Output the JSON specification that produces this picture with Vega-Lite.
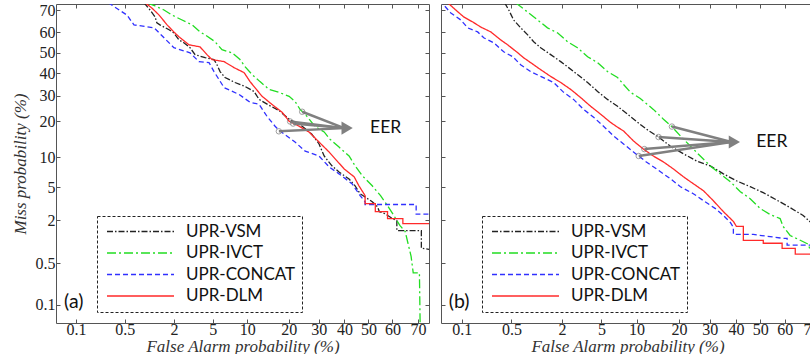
{
  "$schema": "https://vega.github.io/schema/vega-lite/v6.json",
  "autosize": {"type": "pad"},
  "padding": {"left": 11, "top": 2, "right": 0, "bottom": 0},
  "background": "white",
  "datasets": {
    "curves": [
      {"p":"a","s":"UPR-VSM","fa":0.887,"miss":73},{"p":"a","s":"UPR-VSM","fa":1.05,"miss":70.0},{"p":"a","s":"UPR-VSM","fa":1.21,"miss":67.0},{"p":"a","s":"UPR-VSM","fa":1.27,"miss":64.3},{"p":"a","s":"UPR-VSM","fa":1.38,"miss":63.4},{"p":"a","s":"UPR-VSM","fa":1.76,"miss":61.1},{"p":"a","s":"UPR-VSM","fa":1.99,"miss":59.6},{"p":"a","s":"UPR-VSM","fa":2.26,"miss":56.3},{"p":"a","s":"UPR-VSM","fa":2.56,"miss":54.9},{"p":"a","s":"UPR-VSM","fa":2.97,"miss":52.5},{"p":"a","s":"UPR-VSM","fa":3.35,"miss":49.1},{"p":"a","s":"UPR-VSM","fa":4.22,"miss":47.6},{"p":"a","s":"UPR-VSM","fa":5.14,"miss":46.7},{"p":"a","s":"UPR-VSM","fa":5.48,"miss":44.2},{"p":"a","s":"UPR-VSM","fa":5.85,"miss":40.9},{"p":"a","s":"UPR-VSM","fa":6.49,"miss":38.1},{"p":"a","s":"UPR-VSM","fa":7.93,"miss":35.8},{"p":"a","s":"UPR-VSM","fa":9.61,"miss":34.0},{"p":"a","s":"UPR-VSM","fa":11.33,"miss":31.8},{"p":"a","s":"UPR-VSM","fa":12.4,"miss":28.4},{"p":"a","s":"UPR-VSM","fa":14.7,"miss":26.0},{"p":"a","s":"UPR-VSM","fa":17.2,"miss":24.0},{"p":"a","s":"UPR-VSM","fa":20.1,"miss":20.8},{"p":"a","s":"UPR-VSM","fa":24.2,"miss":18.4},{"p":"a","s":"UPR-VSM","fa":27.5,"miss":15.9},{"p":"a","s":"UPR-VSM","fa":30.1,"miss":13.2},{"p":"a","s":"UPR-VSM","fa":32.0,"miss":10.3},{"p":"a","s":"UPR-VSM","fa":35.0,"miss":8.3},{"p":"a","s":"UPR-VSM","fa":37.8,"miss":7.2},{"p":"a","s":"UPR-VSM","fa":41.9,"miss":6.1},{"p":"a","s":"UPR-VSM","fa":44.4,"miss":5.16},{"p":"a","s":"UPR-VSM","fa":46.5,"miss":4.2},{"p":"a","s":"UPR-VSM","fa":51.6,"miss":3.4},{"p":"a","s":"UPR-VSM","fa":53.8,"miss":2.97},{"p":"a","s":"UPR-VSM","fa":54.6,"miss":2.58},{"p":"a","s":"UPR-VSM","fa":56.8,"miss":2.44},{"p":"a","s":"UPR-VSM","fa":60.1,"miss":2.11},{"p":"a","s":"UPR-VSM","fa":61.8,"miss":1.99},{"p":"a","s":"UPR-VSM","fa":61.8,"miss":1.47},{"p":"a","s":"UPR-VSM","fa":71.2,"miss":1.47},{"p":"a","s":"UPR-VSM","fa":71.2,"miss":0.83},{"p":"a","s":"UPR-VSM","fa":76,"miss":0.78},
      {"p":"a","s":"UPR-IVCT","fa":0.965,"miss":73},{"p":"a","s":"UPR-IVCT","fa":1.21,"miss":71.7},{"p":"a","s":"UPR-IVCT","fa":1.54,"miss":70.0},{"p":"a","s":"UPR-IVCT","fa":1.90,"miss":67.8},{"p":"a","s":"UPR-IVCT","fa":2.45,"miss":65.6},{"p":"a","s":"UPR-IVCT","fa":3.12,"miss":63.4},{"p":"a","s":"UPR-IVCT","fa":3.76,"miss":60.1},{"p":"a","s":"UPR-IVCT","fa":4.22,"miss":58.7},{"p":"a","s":"UPR-IVCT","fa":5.26,"miss":55.4},{"p":"a","s":"UPR-IVCT","fa":6.09,"miss":51.5},{"p":"a","s":"UPR-IVCT","fa":7.48,"miss":50.0},{"p":"a","s":"UPR-IVCT","fa":8.74,"miss":46.7},{"p":"a","s":"UPR-IVCT","fa":9.61,"miss":43.3},{"p":"a","s":"UPR-IVCT","fa":10.95,"miss":39.5},{"p":"a","s":"UPR-IVCT","fa":12.6,"miss":36.2},{"p":"a","s":"UPR-IVCT","fa":14.7,"miss":32.7},{"p":"a","s":"UPR-IVCT","fa":17.2,"miss":31.4},{"p":"a","s":"UPR-IVCT","fa":20.1,"miss":29.7},{"p":"a","s":"UPR-IVCT","fa":21.9,"miss":27.6},{"p":"a","s":"UPR-IVCT","fa":23.5,"miss":24.4},{"p":"a","s":"UPR-IVCT","fa":25.8,"miss":21.8},{"p":"a","s":"UPR-IVCT","fa":28.6,"miss":18.4},{"p":"a","s":"UPR-IVCT","fa":32.0,"miss":16.6},{"p":"a","s":"UPR-IVCT","fa":34.2,"miss":14.5},{"p":"a","s":"UPR-IVCT","fa":37.8,"miss":12.4},{"p":"a","s":"UPR-IVCT","fa":41.9,"miss":10.3},{"p":"a","s":"UPR-IVCT","fa":44.4,"miss":8.3},{"p":"a","s":"UPR-IVCT","fa":47.4,"miss":6.6},{"p":"a","s":"UPR-IVCT","fa":51.6,"miss":5.16},{"p":"a","s":"UPR-IVCT","fa":55.1,"miss":4.0},{"p":"a","s":"UPR-IVCT","fa":58.0,"miss":3.05},{"p":"a","s":"UPR-IVCT","fa":60.1,"miss":2.44},{"p":"a","s":"UPR-IVCT","fa":63.0,"miss":1.72},{"p":"a","s":"UPR-IVCT","fa":65.1,"miss":1.43},{"p":"a","s":"UPR-IVCT","fa":66.2,"miss":0.98},{"p":"a","s":"UPR-IVCT","fa":67.4,"miss":0.63},{"p":"a","s":"UPR-IVCT","fa":68.2,"miss":0.35},{"p":"a","s":"UPR-IVCT","fa":70.5,"miss":0.35},{"p":"a","s":"UPR-IVCT","fa":70.8,"miss":0.03},
      {"p":"a","s":"UPR-CONCAT","fa":0.30,"miss":73},{"p":"a","s":"UPR-CONCAT","fa":0.537,"miss":67.8},{"p":"a","s":"UPR-CONCAT","fa":0.662,"miss":63.4},{"p":"a","s":"UPR-CONCAT","fa":1.18,"miss":62.0},{"p":"a","s":"UPR-CONCAT","fa":1.54,"miss":57.3},{"p":"a","s":"UPR-CONCAT","fa":1.99,"miss":52.5},{"p":"a","s":"UPR-CONCAT","fa":2.97,"miss":50.0},{"p":"a","s":"UPR-CONCAT","fa":3.67,"miss":45.7},{"p":"a","s":"UPR-CONCAT","fa":4.61,"miss":45.2},{"p":"a","s":"UPR-CONCAT","fa":5.14,"miss":40.9},{"p":"a","s":"UPR-CONCAT","fa":6.36,"miss":33.5},{"p":"a","s":"UPR-CONCAT","fa":8.58,"miss":30.5},{"p":"a","s":"UPR-CONCAT","fa":10.55,"miss":27.2},{"p":"a","s":"UPR-CONCAT","fa":12.4,"miss":26.4},{"p":"a","s":"UPR-CONCAT","fa":14.2,"miss":21.8},{"p":"a","s":"UPR-CONCAT","fa":16.2,"miss":18.4},{"p":"a","s":"UPR-CONCAT","fa":17.5,"miss":16.9},{"p":"a","s":"UPR-CONCAT","fa":21.9,"miss":13.7},{"p":"a","s":"UPR-CONCAT","fa":25.2,"miss":11.4},{"p":"a","s":"UPR-CONCAT","fa":30.1,"miss":10.3},{"p":"a","s":"UPR-CONCAT","fa":33.9,"miss":8.1},{"p":"a","s":"UPR-CONCAT","fa":37.8,"miss":6.9},{"p":"a","s":"UPR-CONCAT","fa":43.2,"miss":5.4},{"p":"a","s":"UPR-CONCAT","fa":46.5,"miss":4.0},{"p":"a","s":"UPR-CONCAT","fa":48.6,"miss":3.4},{"p":"a","s":"UPR-CONCAT","fa":48.6,"miss":3.15},{"p":"a","s":"UPR-CONCAT","fa":69.3,"miss":3.15},{"p":"a","s":"UPR-CONCAT","fa":69.3,"miss":2.4},{"p":"a","s":"UPR-CONCAT","fa":76,"miss":2.4},
      {"p":"a","s":"UPR-DLM","fa":0.914,"miss":73},{"p":"a","s":"UPR-DLM","fa":1.11,"miss":70.8},{"p":"a","s":"UPR-DLM","fa":1.35,"miss":67.8},{"p":"a","s":"UPR-DLM","fa":1.67,"miss":63.4},{"p":"a","s":"UPR-DLM","fa":1.99,"miss":60.1},{"p":"a","s":"UPR-DLM","fa":2.26,"miss":57.8},{"p":"a","s":"UPR-DLM","fa":2.90,"miss":53.9},{"p":"a","s":"UPR-DLM","fa":3.76,"miss":52.9},{"p":"a","s":"UPR-DLM","fa":4.40,"miss":49.1},{"p":"a","s":"UPR-DLM","fa":4.92,"miss":46.7},{"p":"a","s":"UPR-DLM","fa":6.36,"miss":45.7},{"p":"a","s":"UPR-DLM","fa":7.78,"miss":42.8},{"p":"a","s":"UPR-DLM","fa":9.45,"miss":40.4},{"p":"a","s":"UPR-DLM","fa":10.55,"miss":36.2},{"p":"a","s":"UPR-DLM","fa":13.05,"miss":29.7},{"p":"a","s":"UPR-DLM","fa":15.7,"miss":26.0},{"p":"a","s":"UPR-DLM","fa":18.1,"miss":23.3},{"p":"a","s":"UPR-DLM","fa":20.1,"miss":20.1},{"p":"a","s":"UPR-DLM","fa":23.2,"miss":18.4},{"p":"a","s":"UPR-DLM","fa":26.5,"miss":16.6},{"p":"a","s":"UPR-DLM","fa":30.1,"miss":13.7},{"p":"a","s":"UPR-DLM","fa":33.9,"miss":11.2},{"p":"a","s":"UPR-DLM","fa":37.0,"miss":9.26},{"p":"a","s":"UPR-DLM","fa":39.9,"miss":7.74},{"p":"a","s":"UPR-DLM","fa":44.0,"miss":6.43},{"p":"a","s":"UPR-DLM","fa":46.0,"miss":5.16},{"p":"a","s":"UPR-DLM","fa":48.6,"miss":4.0},{"p":"a","s":"UPR-DLM","fa":48.6,"miss":3.23},{"p":"a","s":"UPR-DLM","fa":52.9,"miss":3.23},{"p":"a","s":"UPR-DLM","fa":52.9,"miss":2.58},{"p":"a","s":"UPR-DLM","fa":58.0,"miss":2.58},{"p":"a","s":"UPR-DLM","fa":58.0,"miss":2.11},{"p":"a","s":"UPR-DLM","fa":64.2,"miss":2.11},{"p":"a","s":"UPR-DLM","fa":64.2,"miss":1.82},{"p":"a","s":"UPR-DLM","fa":76,"miss":1.82},
      {"p":"b","s":"UPR-VSM","fa":0.407,"miss":73},{"p":"b","s":"UPR-VSM","fa":0.461,"miss":70.0},{"p":"b","s":"UPR-VSM","fa":0.534,"miss":65.6},{"p":"b","s":"UPR-VSM","fa":0.657,"miss":62.0},{"p":"b","s":"UPR-VSM","fa":0.802,"miss":58.7},{"p":"b","s":"UPR-VSM","fa":0.949,"miss":55.4},{"p":"b","s":"UPR-VSM","fa":1.15,"miss":52.5},{"p":"b","s":"UPR-VSM","fa":1.50,"miss":49.1},{"p":"b","s":"UPR-VSM","fa":1.94,"miss":45.7},{"p":"b","s":"UPR-VSM","fa":2.36,"miss":42.8},{"p":"b","s":"UPR-VSM","fa":2.92,"miss":39.5},{"p":"b","s":"UPR-VSM","fa":3.69,"miss":35.8},{"p":"b","s":"UPR-VSM","fa":4.60,"miss":31.8},{"p":"b","s":"UPR-VSM","fa":5.68,"miss":28.4},{"p":"b","s":"UPR-VSM","fa":6.97,"miss":25.6},{"p":"b","s":"UPR-VSM","fa":8.46,"miss":22.6},{"p":"b","s":"UPR-VSM","fa":10.2,"miss":19.7},{"p":"b","s":"UPR-VSM","fa":11.9,"miss":17.5},{"p":"b","s":"UPR-VSM","fa":14.6,"miss":15.1},{"p":"b","s":"UPR-VSM","fa":17.6,"miss":12.6},{"p":"b","s":"UPR-VSM","fa":21.3,"miss":10.8},{"p":"b","s":"UPR-VSM","fa":25.4,"miss":9.26},{"p":"b","s":"UPR-VSM","fa":30.2,"miss":8.29},{"p":"b","s":"UPR-VSM","fa":35.1,"miss":6.90},{"p":"b","s":"UPR-VSM","fa":40.2,"miss":5.84},{"p":"b","s":"UPR-VSM","fa":45.8,"miss":5.04},{"p":"b","s":"UPR-VSM","fa":51.2,"miss":4.33},{"p":"b","s":"UPR-VSM","fa":56.5,"miss":3.59},{"p":"b","s":"UPR-VSM","fa":62.1,"miss":2.89},{"p":"b","s":"UPR-VSM","fa":67.1,"miss":2.31},{"p":"b","s":"UPR-VSM","fa":70.7,"miss":1.77},{"p":"b","s":"UPR-VSM","fa":73,"miss":1.5},
      {"p":"b","s":"UPR-IVCT","fa":0.567,"miss":73},{"p":"b","s":"UPR-IVCT","fa":0.802,"miss":69.1},{"p":"b","s":"UPR-IVCT","fa":1.06,"miss":65.6},{"p":"b","s":"UPR-IVCT","fa":1.38,"miss":62.0},{"p":"b","s":"UPR-IVCT","fa":1.80,"miss":59.6},{"p":"b","s":"UPR-IVCT","fa":2.30,"miss":55.4},{"p":"b","s":"UPR-IVCT","fa":2.92,"miss":52.5},{"p":"b","s":"UPR-IVCT","fa":3.69,"miss":48.1},{"p":"b","s":"UPR-IVCT","fa":4.60,"miss":45.2},{"p":"b","s":"UPR-IVCT","fa":5.68,"miss":40.9},{"p":"b","s":"UPR-IVCT","fa":6.97,"miss":38.1},{"p":"b","s":"UPR-IVCT","fa":7.84,"miss":34.9},{"p":"b","s":"UPR-IVCT","fa":8.95,"miss":31.4},{"p":"b","s":"UPR-IVCT","fa":10.7,"miss":28.8},{"p":"b","s":"UPR-IVCT","fa":13.4,"miss":24.4},{"p":"b","s":"UPR-IVCT","fa":15.8,"miss":20.8},{"p":"b","s":"UPR-IVCT","fa":17.9,"miss":18.4},{"p":"b","s":"UPR-IVCT","fa":20.4,"miss":15.4},{"p":"b","s":"UPR-IVCT","fa":23.5,"miss":12.6},{"p":"b","s":"UPR-IVCT","fa":26.7,"miss":10.3},{"p":"b","s":"UPR-IVCT","fa":30.2,"miss":8.29},{"p":"b","s":"UPR-IVCT","fa":33.9,"miss":6.90},{"p":"b","s":"UPR-IVCT","fa":37.8,"miss":5.70},{"p":"b","s":"UPR-IVCT","fa":41.8,"miss":4.44},{"p":"b","s":"UPR-IVCT","fa":45.8,"miss":3.69},{"p":"b","s":"UPR-IVCT","fa":50.0,"miss":2.81},{"p":"b","s":"UPR-IVCT","fa":54.1,"miss":2.37},{"p":"b","s":"UPR-IVCT","fa":58.1,"miss":2.11},{"p":"b","s":"UPR-IVCT","fa":59.3,"miss":1.67},{"p":"b","s":"UPR-IVCT","fa":62.1,"miss":1.26},{"p":"b","s":"UPR-IVCT","fa":66.0,"miss":1.08},{"p":"b","s":"UPR-IVCT","fa":69.0,"miss":0.95},{"p":"b","s":"UPR-IVCT","fa":69.7,"miss":0.78},{"p":"b","s":"UPR-IVCT","fa":71,"miss":0.6},
      {"p":"b","s":"UPR-CONCAT","fa":0.045,"miss":74},{"p":"b","s":"UPR-CONCAT","fa":0.068,"miss":68.7},{"p":"b","s":"UPR-CONCAT","fa":0.097,"miss":65.6},{"p":"b","s":"UPR-CONCAT","fa":0.123,"miss":62.0},{"p":"b","s":"UPR-CONCAT","fa":0.172,"miss":60.1},{"p":"b","s":"UPR-CONCAT","fa":0.210,"miss":57.3},{"p":"b","s":"UPR-CONCAT","fa":0.290,"miss":54.9},{"p":"b","s":"UPR-CONCAT","fa":0.395,"miss":50.5},{"p":"b","s":"UPR-CONCAT","fa":0.519,"miss":48.1},{"p":"b","s":"UPR-CONCAT","fa":0.655,"miss":44.2},{"p":"b","s":"UPR-CONCAT","fa":0.873,"miss":40.9},{"p":"b","s":"UPR-CONCAT","fa":1.15,"miss":38.6},{"p":"b","s":"UPR-CONCAT","fa":1.62,"miss":35.8},{"p":"b","s":"UPR-CONCAT","fa":2.09,"miss":31.4},{"p":"b","s":"UPR-CONCAT","fa":2.66,"miss":28.4},{"p":"b","s":"UPR-CONCAT","fa":3.36,"miss":24.4},{"p":"b","s":"UPR-CONCAT","fa":4.22,"miss":21.5},{"p":"b","s":"UPR-CONCAT","fa":5.34,"miss":18.1},{"p":"b","s":"UPR-CONCAT","fa":6.43,"miss":15.4},{"p":"b","s":"UPR-CONCAT","fa":7.84,"miss":13.2},{"p":"b","s":"UPR-CONCAT","fa":9.46,"miss":11.2},{"p":"b","s":"UPR-CONCAT","fa":10.4,"miss":10.3},{"p":"b","s":"UPR-CONCAT","fa":11.9,"miss":9.05},{"p":"b","s":"UPR-CONCAT","fa":14.1,"miss":7.74},{"p":"b","s":"UPR-CONCAT","fa":17.6,"miss":6.13},{"p":"b","s":"UPR-CONCAT","fa":20.4,"miss":5.04},{"p":"b","s":"UPR-CONCAT","fa":24.4,"miss":4.21},{"p":"b","s":"UPR-CONCAT","fa":27.8,"miss":3.50},{"p":"b","s":"UPR-CONCAT","fa":32.1,"miss":2.81},{"p":"b","s":"UPR-CONCAT","fa":35.1,"miss":2.31},{"p":"b","s":"UPR-CONCAT","fa":37.8,"miss":1.88},{"p":"b","s":"UPR-CONCAT","fa":39.0,"miss":1.62},{"p":"b","s":"UPR-CONCAT","fa":39.0,"miss":1.30},{"p":"b","s":"UPR-CONCAT","fa":47.1,"miss":1.30},{"p":"b","s":"UPR-CONCAT","fa":59.3,"miss":1.15},{"p":"b","s":"UPR-CONCAT","fa":60.9,"miss":1.15},{"p":"b","s":"UPR-CONCAT","fa":60.9,"miss":0.92},{"p":"b","s":"UPR-CONCAT","fa":73,"miss":0.92},
      {"p":"b","s":"UPR-DLM","fa":0.055,"miss":74},{"p":"b","s":"UPR-DLM","fa":0.081,"miss":70.0},{"p":"b","s":"UPR-DLM","fa":0.107,"miss":67.0},{"p":"b","s":"UPR-DLM","fa":0.146,"miss":64.7},{"p":"b","s":"UPR-DLM","fa":0.190,"miss":62.4},{"p":"b","s":"UPR-DLM","fa":0.264,"miss":60.1},{"p":"b","s":"UPR-DLM","fa":0.360,"miss":56.3},{"p":"b","s":"UPR-DLM","fa":0.446,"miss":53.9},{"p":"b","s":"UPR-DLM","fa":0.602,"miss":50.0},{"p":"b","s":"UPR-DLM","fa":0.714,"miss":47.6},{"p":"b","s":"UPR-DLM","fa":0.873,"miss":45.2},{"p":"b","s":"UPR-DLM","fa":1.15,"miss":41.8},{"p":"b","s":"UPR-DLM","fa":1.50,"miss":38.6},{"p":"b","s":"UPR-DLM","fa":1.94,"miss":35.8},{"p":"b","s":"UPR-DLM","fa":2.48,"miss":32.7},{"p":"b","s":"UPR-DLM","fa":3.14,"miss":29.2},{"p":"b","s":"UPR-DLM","fa":3.95,"miss":25.6},{"p":"b","s":"UPR-DLM","fa":4.91,"miss":22.6},{"p":"b","s":"UPR-DLM","fa":6.05,"miss":19.7},{"p":"b","s":"UPR-DLM","fa":6.97,"miss":18.1},{"p":"b","s":"UPR-DLM","fa":7.84,"miss":16.9},{"p":"b","s":"UPR-DLM","fa":9.46,"miss":14.0},{"p":"b","s":"UPR-DLM","fa":11.3,"miss":11.9},{"p":"b","s":"UPR-DLM","fa":13.4,"miss":10.3},{"p":"b","s":"UPR-DLM","fa":15.8,"miss":9.05},{"p":"b","s":"UPR-DLM","fa":18.4,"miss":7.74},{"p":"b","s":"UPR-DLM","fa":21.3,"miss":6.43},{"p":"b","s":"UPR-DLM","fa":24.4,"miss":5.43},{"p":"b","s":"UPR-DLM","fa":27.8,"miss":4.55},{"p":"b","s":"UPR-DLM","fa":31.3,"miss":3.50},{"p":"b","s":"UPR-DLM","fa":35.1,"miss":2.58},{"p":"b","s":"UPR-DLM","fa":39.0,"miss":1.94},{"p":"b","s":"UPR-DLM","fa":40.2,"miss":1.67},{"p":"b","s":"UPR-DLM","fa":43.0,"miss":1.67},{"p":"b","s":"UPR-DLM","fa":43.0,"miss":1.08},{"p":"b","s":"UPR-DLM","fa":51.2,"miss":1.08},{"p":"b","s":"UPR-DLM","fa":51.2,"miss":0.98},{"p":"b","s":"UPR-DLM","fa":58.9,"miss":0.98},{"p":"b","s":"UPR-DLM","fa":58.9,"miss":0.83},{"p":"b","s":"UPR-DLM","fa":64.1,"miss":0.83},{"p":"b","s":"UPR-DLM","fa":64.1,"miss":0.68},{"p":"b","s":"UPR-DLM","fa":73,"miss":0.68}
    ],
    "eer": [
      {"p":"a","s":"UPR-IVCT","fa":24.2,"miss":23.5,"fa2":39.9,"miss2":17.8},
      {"p":"a","s":"UPR-VSM","fa":21.3,"miss":19.3,"fa2":39.9,"miss2":17.8},
      {"p":"a","s":"UPR-DLM","fa":20.4,"miss":20.0,"fa2":39.9,"miss2":17.8},
      {"p":"a","s":"UPR-CONCAT","fa":17.2,"miss":16.8,"fa2":39.9,"miss2":17.8},
      {"p":"b","s":"UPR-IVCT","fa":18.0,"miss":18.3,"fa2":38.2,"miss2":13.7},
      {"p":"b","s":"UPR-VSM","fa":14.6,"miss":15.1,"fa2":38.2,"miss2":13.7},
      {"p":"b","s":"UPR-DLM","fa":11.5,"miss":11.9,"fa2":38.2,"miss2":13.7},
      {"p":"b","s":"UPR-CONCAT","fa":10.4,"miss":10.3,"fa2":38.2,"miss2":13.7}
    ],
    "heads": [
      {"p":"a","fa":41.1,"miss":17.8},
      {"p":"b","fa":39.4,"miss":13.7}
    ],
    "notes": [
      {"p":"a","t":"EER","fa":50.7,"miss":17.8},
      {"p":"a","t":"(a)","fa":0.065,"miss":0.113},
      {"p":"b","t":"EER","fa":48.3,"miss":13.6},
      {"p":"b","t":"(b)","fa":0.063,"miss":0.113}
    ]
  },
  "spacing": 10,
  "hconcat": [
    {
      "width": 373, "height": 319,
      "layer": [
        {
          "data": {"name": "curves"},
          "transform": [{"filter": "datum.p === 'a'"}, {"calculate": "quantileNormal(datum.fa/100)", "as": "zx"}, {"calculate": "quantileNormal(datum.miss/100)", "as": "zy"}],
          "mark": {"type": "line", "strokeWidth": 1.3, "clip": true},
          "encoding": {
            "x": {"field": "zx", "type": "quantitative", "scale": {"domain": [-3.301, 0.64], "nice": false, "zero": false},
                  "axis": {"values": [-3.0902,-2.5758,-2.0537,-1.6449,-1.2816,-0.8416,-0.5244,-0.2533,0,0.2533,0.5244], "labelExpr": "toString(round(cumulativeNormal(datum.value)*1000)/10)", "title": "False Alarm probability (%)"}},
            "y": {"field": "zy", "type": "quantitative", "scale": {"domain": [-3.311, 0.598], "nice": false, "zero": false},
                  "axis": {"values": [-3.0902,-2.5758,-2.0537,-1.6449,-1.2816,-0.8416,-0.5244,-0.2533,0,0.2533,0.5244], "labelExpr": "toString(round(cumulativeNormal(datum.value)*1000)/10)", "title": "Miss probability (%)"}},
            "color": {"field": "s", "type": "nominal", "title": null, "scale": {"domain": ["UPR-VSM","UPR-IVCT","UPR-CONCAT","UPR-DLM"], "range": ["#222222","#22dd22","#3030ff","#ff2a2a"]}},
            "strokeDash": {"field": "s", "type": "nominal", "title": null, "scale": {"domain": ["UPR-VSM","UPR-IVCT","UPR-CONCAT","UPR-DLM"], "range": [[6,2,1.5,2],[9,3,2,3],[5,3],[1,0]]}},
            "order": [{"field": "fa", "type": "quantitative"}, {"field": "miss", "type": "quantitative", "sort": "descending"}]
          }
        },
        {
          "data": {"name": "curves"},
          "transform": [{"filter": "datum.p === 'a'"}, {"calculate": "quantileNormal(datum.fa/100)", "as": "zx"}, {"calculate": "quantileNormal(datum.miss/100)", "as": "zy"}],
          "mark": {"type": "point", "opacity": 0, "clip": true},
          "encoding": {
            "x": {"field": "zx", "type": "quantitative", "axis": {"orient": "top", "labels": false, "title": null, "values": [-3.0902,-2.5758,-2.0537,-1.6449,-1.2816,-0.8416,-0.5244,-0.2533,0,0.2533,0.5244]}},
            "y": {"field": "zy", "type": "quantitative", "axis": {"orient": "right", "labels": false, "title": null, "values": [-3.0902,-2.5758,-2.0537,-1.6449,-1.2816,-0.8416,-0.5244,-0.2533,0,0.2533,0.5244]}}
          }
        },
        {
          "data": {"name": "eer"},
          "transform": [{"filter": "datum.p === 'a'"}, {"calculate": "quantileNormal(datum.fa/100)", "as": "zx"}, {"calculate": "quantileNormal(datum.miss/100)", "as": "zy"}, {"calculate": "quantileNormal(datum.fa2/100)", "as": "zx2"}, {"calculate": "quantileNormal(datum.miss2/100)", "as": "zy2"}],
          "mark": {"type": "rule", "color": "#808080", "strokeWidth": 2.5},
          "encoding": {
            "x": {"field": "zx", "type": "quantitative", "axis": null},
            "y": {"field": "zy", "type": "quantitative", "axis": null},
            "x2": {"field": "zx2"},
            "y2": {"field": "zy2"}
          }
        },
        {
          "data": {"name": "eer"},
          "transform": [{"filter": "datum.p === 'a'"}, {"calculate": "quantileNormal(datum.fa/100)", "as": "zx"}, {"calculate": "quantileNormal(datum.miss/100)", "as": "zy"}],
          "mark": {"type": "point", "shape": "circle", "filled": false, "size": 30, "stroke": "#777777", "strokeWidth": 1},
          "encoding": {
            "x": {"field": "zx", "type": "quantitative", "axis": null},
            "y": {"field": "zy", "type": "quantitative", "axis": null}
          }
        },
        {
          "data": {"name": "heads"},
          "transform": [{"filter": "datum.p === 'a'"}, {"calculate": "quantileNormal(datum.fa/100)", "as": "zx"}, {"calculate": "quantileNormal(datum.miss/100)", "as": "zy"}],
          "mark": {"type": "point", "shape": "triangle-right", "filled": true, "size": 170, "color": "#808080", "opacity": 1},
          "encoding": {
            "x": {"field": "zx", "type": "quantitative", "axis": null},
            "y": {"field": "zy", "type": "quantitative", "axis": null}
          }
        },
        {
          "data": {"name": "notes"},
          "transform": [{"filter": "datum.p === 'a'"}, {"calculate": "quantileNormal(datum.fa/100)", "as": "zx"}, {"calculate": "quantileNormal(datum.miss/100)", "as": "zy"}],
          "mark": {"type": "text", "font": "Lato", "align": "left", "baseline": "middle", "color": "#111111"},
          "encoding": {
            "x": {"field": "zx", "type": "quantitative", "axis": null},
            "y": {"field": "zy", "type": "quantitative", "axis": null},
            "text": {"field": "t"},
            "size": {"condition": {"test": "datum.t === 'EER'", "value": 17.5}, "value": 19.5}
          }
        }
      ],
      "resolve": {"axis": {"x": "independent", "y": "independent"}}
    },
    {
      "width": 373, "height": 319,
      "layer": [
        {
          "data": {"name": "curves"},
          "transform": [{"filter": "datum.p === 'b'"}, {"calculate": "quantileNormal(datum.fa/100)", "as": "zx"}, {"calculate": "quantileNormal(datum.miss/100)", "as": "zy"}],
          "mark": {"type": "line", "strokeWidth": 1.3, "clip": true},
          "encoding": {
            "x": {"field": "zx", "type": "quantitative", "scale": {"domain": [-3.305, 0.555], "nice": false, "zero": false},
                  "axis": {"values": [-3.0902,-2.5758,-2.0537,-1.6449,-1.2816,-0.8416,-0.5244,-0.2533,0,0.2533,0.5244], "labelExpr": "toString(round(cumulativeNormal(datum.value)*1000)/10)", "title": "False Alarm probability (%)"}},
            "y": {"field": "zy", "type": "quantitative", "scale": {"domain": [-3.311, 0.598], "nice": false, "zero": false},
                  "axis": {"values": [-3.0902,-2.5758,-2.0537,-1.6449,-1.2816,-0.8416,-0.5244,-0.2533,0,0.2533,0.5244], "labels": false, "title": null}},
            "color": {"field": "s", "type": "nominal", "title": null, "scale": {"domain": ["UPR-VSM","UPR-IVCT","UPR-CONCAT","UPR-DLM"], "range": ["#222222","#22dd22","#3030ff","#ff2a2a"]}},
            "strokeDash": {"field": "s", "type": "nominal", "title": null, "scale": {"domain": ["UPR-VSM","UPR-IVCT","UPR-CONCAT","UPR-DLM"], "range": [[6,2,1.5,2],[9,3,2,3],[5,3],[1,0]]}},
            "order": [{"field": "fa", "type": "quantitative"}, {"field": "miss", "type": "quantitative", "sort": "descending"}]
          }
        },
        {
          "data": {"name": "curves"},
          "transform": [{"filter": "datum.p === 'b'"}, {"calculate": "quantileNormal(datum.fa/100)", "as": "zx"}, {"calculate": "quantileNormal(datum.miss/100)", "as": "zy"}],
          "mark": {"type": "point", "opacity": 0, "clip": true},
          "encoding": {
            "x": {"field": "zx", "type": "quantitative", "axis": {"orient": "top", "labels": false, "title": null, "values": [-3.0902,-2.5758,-2.0537,-1.6449,-1.2816,-0.8416,-0.5244,-0.2533,0,0.2533,0.5244]}},
            "y": {"field": "zy", "type": "quantitative", "axis": {"orient": "right", "labels": false, "title": null, "values": [-3.0902,-2.5758,-2.0537,-1.6449,-1.2816,-0.8416,-0.5244,-0.2533,0,0.2533,0.5244]}}
          }
        },
        {
          "data": {"name": "eer"},
          "transform": [{"filter": "datum.p === 'b'"}, {"calculate": "quantileNormal(datum.fa/100)", "as": "zx"}, {"calculate": "quantileNormal(datum.miss/100)", "as": "zy"}, {"calculate": "quantileNormal(datum.fa2/100)", "as": "zx2"}, {"calculate": "quantileNormal(datum.miss2/100)", "as": "zy2"}],
          "mark": {"type": "rule", "color": "#808080", "strokeWidth": 2.5},
          "encoding": {
            "x": {"field": "zx", "type": "quantitative", "axis": null},
            "y": {"field": "zy", "type": "quantitative", "axis": null},
            "x2": {"field": "zx2"},
            "y2": {"field": "zy2"}
          }
        },
        {
          "data": {"name": "eer"},
          "transform": [{"filter": "datum.p === 'b'"}, {"calculate": "quantileNormal(datum.fa/100)", "as": "zx"}, {"calculate": "quantileNormal(datum.miss/100)", "as": "zy"}],
          "mark": {"type": "point", "shape": "circle", "filled": false, "size": 30, "stroke": "#777777", "strokeWidth": 1},
          "encoding": {
            "x": {"field": "zx", "type": "quantitative", "axis": null},
            "y": {"field": "zy", "type": "quantitative", "axis": null}
          }
        },
        {
          "data": {"name": "heads"},
          "transform": [{"filter": "datum.p === 'b'"}, {"calculate": "quantileNormal(datum.fa/100)", "as": "zx"}, {"calculate": "quantileNormal(datum.miss/100)", "as": "zy"}],
          "mark": {"type": "point", "shape": "triangle-right", "filled": true, "size": 170, "color": "#808080", "opacity": 1},
          "encoding": {
            "x": {"field": "zx", "type": "quantitative", "axis": null},
            "y": {"field": "zy", "type": "quantitative", "axis": null}
          }
        },
        {
          "data": {"name": "notes"},
          "transform": [{"filter": "datum.p === 'b'"}, {"calculate": "quantileNormal(datum.fa/100)", "as": "zx"}, {"calculate": "quantileNormal(datum.miss/100)", "as": "zy"}],
          "mark": {"type": "text", "font": "Lato", "align": "left", "baseline": "middle", "color": "#111111"},
          "encoding": {
            "x": {"field": "zx", "type": "quantitative", "axis": null},
            "y": {"field": "zy", "type": "quantitative", "axis": null},
            "text": {"field": "t"},
            "size": {"condition": {"test": "datum.t === 'EER'", "value": 17.5}, "value": 19.5}
          }
        }
      ],
      "resolve": {"axis": {"x": "independent", "y": "independent"}}
    }
  ],
  "resolve": {
    "scale": {"color": "independent", "strokeDash": "independent", "x": "independent", "y": "independent"},
    "legend": {"color": "independent", "strokeDash": "independent"}
  },
  "config": {
    "view": {"stroke": null},
    "axis": {
      "grid": false, "domainColor": "#555555", "domainWidth": 1, "tickColor": "#555555", "tickSize": -4, "tickWidth": 1,
      "labelFont": "Liberation Serif", "labelFontSize": 16, "labelColor": "#222222", "labelPadding": 5,
      "titleFont": "Liberation Serif", "titleFontSize": 17, "titleFontStyle": "italic", "titleFontWeight": "normal", "titleColor": "#333333", "titlePadding": 4
    },
    "axisX": {"labelPadding": 2, "titlePadding": 1},
    "axisY": {"titlePadding": 6},
    "legend": {
      "orient": "none", "legendX": 41, "legendY": 212,
      "symbolType": "stroke", "symbolSize": 4489, "symbolStrokeWidth": 1.5, "symbolOffset": 3,
      "clipHeight": 19, "rowPadding": 2.5,
      "labelFont": "Lato", "labelFontSize": 17, "labelColor": "#111111", "labelOffset": 11,
      "padding": 6, "strokeColor": "#222222", "strokeDash": [3, 2], "fillColor": "white"
    }
  }
}
